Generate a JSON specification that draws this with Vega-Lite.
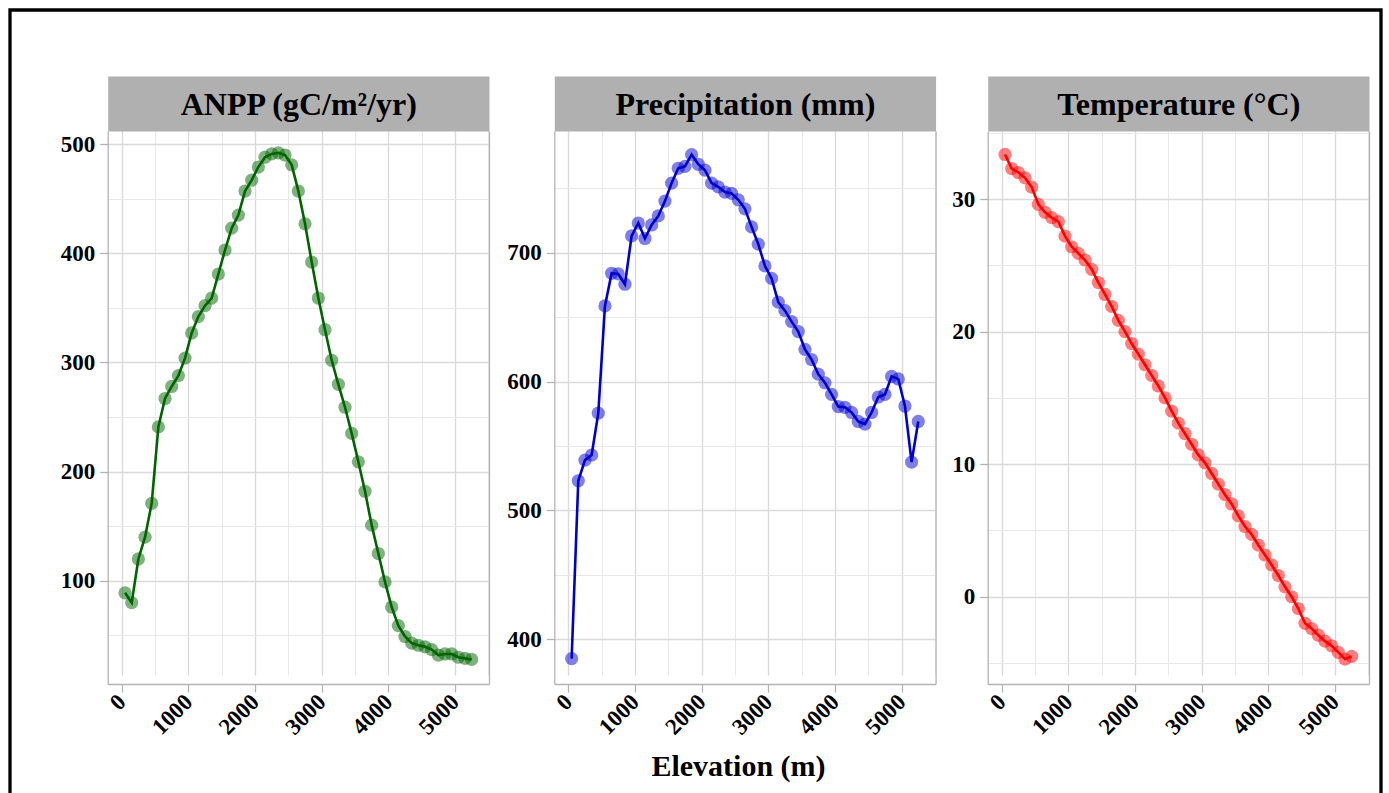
{
  "$schema": "https://vega.github.io/schema/vega-lite/v6.json",
  "width": 1371,
  "height": 786,
  "autosize": {"type": "none"},
  "padding": {"left": 10, "top": 10, "right": 8, "bottom": 0},
  "background": "white",
  "config": {
    "view": {"stroke": "black", "strokeWidth": 3.3, "fill": "white"},
    "axis": {
      "labelFont": "Liberation Serif", "labelFontWeight": "bold", "labelFontSize": 23, "labelColor": "black",
      "titleFont": "Liberation Serif", "titleFontWeight": "bold", "titleColor": "black",
      "domainColor": "#B3B3B3", "domainWidth": 1.3, "tickColor": "#B3B3B3", "tickSize": 8, "tickWidth": 1.3,
      "labelFlush": false, "labelOverlap": false, "labelBound": false
    }
  },
  "datasets": {
    "d": [
      {"elev": 50, "anpp": 89, "precip": 385, "temp": 33.36},
      {"elev": 150, "anpp": 80, "precip": 523, "temp": 32.3},
      {"elev": 250, "anpp": 120, "precip": 539, "temp": 32.0},
      {"elev": 350, "anpp": 140, "precip": 543, "temp": 31.6},
      {"elev": 450, "anpp": 171, "precip": 575.5, "temp": 30.9},
      {"elev": 550, "anpp": 241, "precip": 658.7, "temp": 29.6},
      {"elev": 650, "anpp": 267, "precip": 684, "temp": 29.0},
      {"elev": 750, "anpp": 278, "precip": 683.5, "temp": 28.6},
      {"elev": 850, "anpp": 288, "precip": 675.5, "temp": 28.3},
      {"elev": 950, "anpp": 304, "precip": 713, "temp": 27.2},
      {"elev": 1050, "anpp": 327, "precip": 723, "temp": 26.4},
      {"elev": 1150, "anpp": 342, "precip": 711, "temp": 25.9},
      {"elev": 1250, "anpp": 352, "precip": 721.5, "temp": 25.4},
      {"elev": 1350, "anpp": 359, "precip": 728.5, "temp": 24.7},
      {"elev": 1450, "anpp": 381, "precip": 740, "temp": 23.7},
      {"elev": 1550, "anpp": 403, "precip": 754, "temp": 22.8},
      {"elev": 1650, "anpp": 423, "precip": 765.5, "temp": 21.9},
      {"elev": 1750, "anpp": 435, "precip": 767, "temp": 20.85},
      {"elev": 1850, "anpp": 457, "precip": 776, "temp": 20.0},
      {"elev": 1950, "anpp": 467, "precip": 768.6, "temp": 19.1},
      {"elev": 2050, "anpp": 479, "precip": 764, "temp": 18.3},
      {"elev": 2150, "anpp": 488, "precip": 754, "temp": 17.5},
      {"elev": 2250, "anpp": 491, "precip": 751, "temp": 16.7},
      {"elev": 2350, "anpp": 492, "precip": 747, "temp": 15.9},
      {"elev": 2450, "anpp": 490, "precip": 746, "temp": 15.0},
      {"elev": 2550, "anpp": 481, "precip": 741, "temp": 14.0},
      {"elev": 2650, "anpp": 457, "precip": 734, "temp": 13.1},
      {"elev": 2750, "anpp": 427, "precip": 720, "temp": 12.3},
      {"elev": 2850, "anpp": 392, "precip": 706.6, "temp": 11.5},
      {"elev": 2950, "anpp": 359, "precip": 689.7, "temp": 10.7},
      {"elev": 3050, "anpp": 330, "precip": 680, "temp": 10.1},
      {"elev": 3150, "anpp": 302, "precip": 661.6, "temp": 9.3},
      {"elev": 3250, "anpp": 280, "precip": 655, "temp": 8.5},
      {"elev": 3350, "anpp": 259, "precip": 646.5, "temp": 7.7},
      {"elev": 3450, "anpp": 235, "precip": 638.8, "temp": 7.0},
      {"elev": 3550, "anpp": 209, "precip": 625, "temp": 6.1},
      {"elev": 3650, "anpp": 182, "precip": 617, "temp": 5.3},
      {"elev": 3750, "anpp": 151, "precip": 605.7, "temp": 4.7},
      {"elev": 3850, "anpp": 125, "precip": 599, "temp": 3.9},
      {"elev": 3950, "anpp": 99, "precip": 590, "temp": 3.15},
      {"elev": 4050, "anpp": 76, "precip": 580.6, "temp": 2.4},
      {"elev": 4150, "anpp": 59, "precip": 580, "temp": 1.6},
      {"elev": 4250, "anpp": 49, "precip": 576, "temp": 0.75},
      {"elev": 4350, "anpp": 43, "precip": 569, "temp": 0.0},
      {"elev": 4450, "anpp": 41, "precip": 567, "temp": -0.9},
      {"elev": 4550, "anpp": 39.6, "precip": 576, "temp": -2.0},
      {"elev": 4650, "anpp": 37, "precip": 588, "temp": -2.4},
      {"elev": 4750, "anpp": 32, "precip": 590, "temp": -2.9},
      {"elev": 4850, "anpp": 33, "precip": 604, "temp": -3.35},
      {"elev": 4950, "anpp": 33, "precip": 602, "temp": -3.7},
      {"elev": 5050, "anpp": 30, "precip": 581, "temp": -4.2},
      {"elev": 5150, "anpp": 29, "precip": 537.5, "temp": -4.7},
      {"elev": 5250, "anpp": 28, "precip": 569, "temp": -4.5}
    ]
  },
  "data": {"name": "d"},
  "layer": [
    {
      "layer": [
        {
          "mark": {"type": "point", "filled": true, "size": 175, "opacity": 0.5, "color": "#006400", "strokeWidth": 0},
          "encoding": {
            "x": {"field": "elev", "type": "quantitative",
              "scale": {"domain": [-210, 5510], "range": [97.7, 479], "nice": false, "zero": false},
              "axis": {"orient": "top", "offset": -93.5, "domain": true, "domainColor": "#B0B0B0", "domainWidth": 55, "domainCap": "butt",
                "ticks": false, "labels": false, "grid": false,
                "title": "ANPP (gC/m²/yr)", "titleFontSize": 32, "titleY": 10.5, "titleBaseline": "alphabetic", "titleAlign": "center"}},
            "y": {"field": "anpp", "type": "quantitative",
              "scale": {"domain": [5.5, 512], "range": [674, 121], "nice": false, "zero": false},
              "axis": {"orient": "right", "offset": -892, "domain": true, "ticks": false, "labels": false, "grid": false, "title": null}}
          }
        },
        {
          "mark": {"type": "line", "color": "#006400", "strokeWidth": 2.6},
          "encoding": {
            "x": {"field": "elev", "type": "quantitative",
              "scale": {"domain": [-210, 5510], "range": [97.7, 479], "nice": false, "zero": false},
              "axis": {"orient": "bottom", "offset": -112, "title": null, "format": "d",
                "values": [0, 500, 1000, 1500, 2000, 2500, 3000, 3500, 4000, 4500, 5000, 5500],
                "labelExpr": "datum.value % 1000 === 0 ? datum.label : ''",
                "labelAngle": -45, "labelAlign": "right", "labelBaseline": "middle", "labelPadding": 6,
                "grid": true,
                "gridColor": {"condition": {"test": "datum.value % 1000 !== 0", "value": "#E8E8E8"}, "value": "#DADADA"},
                "gridWidth": {"condition": {"test": "datum.value % 1000 !== 0", "value": 1}, "value": 1.4},
                "tickOpacity": {"condition": {"test": "datum.value % 1000 !== 0", "value": 0}, "value": 1}}},
            "y": {"field": "anpp", "type": "quantitative",
              "scale": {"domain": [5.5, 512], "range": [674, 121], "nice": false, "zero": false},
              "axis": {"orient": "left", "offset": -97.7, "title": null, "format": "d",
                "values": [50, 100, 150, 200, 250, 300, 350, 400, 450, 500],
                "labelExpr": "datum.value % 100 === 0 ? datum.label : ''",
                "labelPadding": 5,
                "grid": true,
                "gridColor": {"condition": {"test": "datum.value % 100 !== 0", "value": "#E8E8E8"}, "value": "#DADADA"},
                "gridWidth": {"condition": {"test": "datum.value % 100 !== 0", "value": 1}, "value": 1.4},
                "tickOpacity": {"condition": {"test": "datum.value % 100 !== 0", "value": 0}, "value": 1}}}
          }
        }
      ]
    },
    {
      "layer": [
        {
          "mark": {"type": "point", "filled": true, "size": 175, "opacity": 0.5, "color": "#0000CD", "strokeWidth": 0},
          "encoding": {
            "x": {"field": "elev", "type": "quantitative",
              "scale": {"domain": [-210, 5510], "range": [544.3, 925.6], "nice": false, "zero": false},
              "axis": {"orient": "top", "offset": -93.5, "domain": true, "domainColor": "#B0B0B0", "domainWidth": 55, "domainCap": "butt",
                "ticks": false, "labels": false, "grid": false,
                "title": "Precipitation (mm)", "titleFontSize": 32, "titleY": 10.5, "titleBaseline": "alphabetic", "titleAlign": "center"}},
            "y": {"field": "precip", "type": "quantitative",
              "scale": {"domain": [365.3, 794.4], "range": [674, 121], "nice": false, "zero": false},
              "axis": {"orient": "right", "offset": -445.4, "domain": true, "ticks": false, "labels": false, "grid": false, "title": null}}
          }
        },
        {
          "mark": {"type": "line", "color": "#0000CD", "strokeWidth": 2.6},
          "encoding": {
            "x": {"field": "elev", "type": "quantitative",
              "scale": {"domain": [-210, 5510], "range": [544.3, 925.6], "nice": false, "zero": false},
              "axis": {"orient": "bottom", "offset": -112, "format": "d",
                "title": "Elevation (m)", "titleFontSize": 30, "titleX": 728, "titleY": 91, "titleBaseline": "alphabetic", "titleAlign": "center",
                "values": [0, 500, 1000, 1500, 2000, 2500, 3000, 3500, 4000, 4500, 5000, 5500],
                "labelExpr": "datum.value % 1000 === 0 ? datum.label : ''",
                "labelAngle": -45, "labelAlign": "right", "labelBaseline": "middle", "labelPadding": 6,
                "grid": true,
                "gridColor": {"condition": {"test": "datum.value % 1000 !== 0", "value": "#E8E8E8"}, "value": "#DADADA"},
                "gridWidth": {"condition": {"test": "datum.value % 1000 !== 0", "value": 1}, "value": 1.4},
                "tickOpacity": {"condition": {"test": "datum.value % 1000 !== 0", "value": 0}, "value": 1}}},
            "y": {"field": "precip", "type": "quantitative",
              "scale": {"domain": [365.3, 794.4], "range": [674, 121], "nice": false, "zero": false},
              "axis": {"orient": "left", "offset": -544.3, "title": null, "format": "d",
                "values": [400, 450, 500, 550, 600, 650, 700, 750],
                "labelExpr": "datum.value % 100 === 0 ? datum.label : ''",
                "labelPadding": 5,
                "grid": true,
                "gridColor": {"condition": {"test": "datum.value % 100 !== 0", "value": "#E8E8E8"}, "value": "#DADADA"},
                "gridWidth": {"condition": {"test": "datum.value % 100 !== 0", "value": 1}, "value": 1.4},
                "tickOpacity": {"condition": {"test": "datum.value % 100 !== 0", "value": 0}, "value": 1}}}
          }
        }
      ]
    },
    {
      "layer": [
        {
          "mark": {"type": "point", "filled": true, "size": 175, "opacity": 0.5, "color": "#FF0000", "strokeWidth": 0},
          "encoding": {
            "x": {"field": "elev", "type": "quantitative",
              "scale": {"domain": [-210, 5510], "range": [977.7, 1359], "nice": false, "zero": false},
              "axis": {"orient": "top", "offset": -93.5, "domain": true, "domainColor": "#B0B0B0", "domainWidth": 55, "domainCap": "butt",
                "ticks": false, "labels": false, "grid": false,
                "title": "Temperature (°C)", "titleFontSize": 32, "titleY": 10.5, "titleBaseline": "alphabetic", "titleAlign": "center"}},
            "y": {"field": "temp", "type": "quantitative",
              "scale": {"domain": [-6.58, 35.13], "range": [674, 121], "nice": false, "zero": false},
              "axis": {"orient": "right", "offset": -12, "domain": true, "ticks": false, "labels": false, "grid": false, "title": null}}
          }
        },
        {
          "mark": {"type": "line", "color": "#FF0000", "strokeWidth": 2.6},
          "encoding": {
            "x": {"field": "elev", "type": "quantitative",
              "scale": {"domain": [-210, 5510], "range": [977.7, 1359], "nice": false, "zero": false},
              "axis": {"orient": "bottom", "offset": -112, "title": null, "format": "d",
                "values": [0, 500, 1000, 1500, 2000, 2500, 3000, 3500, 4000, 4500, 5000, 5500],
                "labelExpr": "datum.value % 1000 === 0 ? datum.label : ''",
                "labelAngle": -45, "labelAlign": "right", "labelBaseline": "middle", "labelPadding": 6,
                "grid": true,
                "gridColor": {"condition": {"test": "datum.value % 1000 !== 0", "value": "#E8E8E8"}, "value": "#DADADA"},
                "gridWidth": {"condition": {"test": "datum.value % 1000 !== 0", "value": 1}, "value": 1.4},
                "tickOpacity": {"condition": {"test": "datum.value % 1000 !== 0", "value": 0}, "value": 1}}},
            "y": {"field": "temp", "type": "quantitative",
              "scale": {"domain": [-6.58, 35.13], "range": [674, 121], "nice": false, "zero": false},
              "axis": {"orient": "left", "offset": -977.7, "title": null, "format": "d",
                "values": [-5, 0, 5, 10, 15, 20, 25, 30, 35],
                "labelExpr": "datum.value % 10 === 0 ? datum.label : ''",
                "labelPadding": 5,
                "grid": true,
                "gridColor": {"condition": {"test": "datum.value % 10 !== 0", "value": "#E8E8E8"}, "value": "#DADADA"},
                "gridWidth": {"condition": {"test": "datum.value % 10 !== 0", "value": 1}, "value": 1.4},
                "tickOpacity": {"condition": {"test": "datum.value % 10 !== 0", "value": 0}, "value": 1}}}
          }
        }
      ]
    }
  ],
  "resolve": {"scale": {"x": "independent", "y": "independent"}, "axis": {"x": "independent", "y": "independent"}}
}
